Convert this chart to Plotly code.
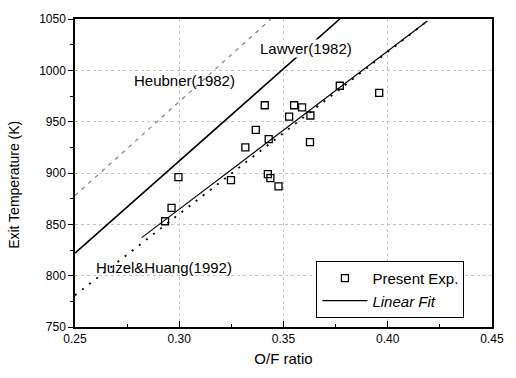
import plotly.graph_objects as go

# Experimental data (O/F ratio, exit temperature K)
exp_of = [0.2932, 0.2963, 0.2996, 0.3248, 0.3317, 0.3367, 0.3410, 0.3425, 0.3437,
          0.3429, 0.3476, 0.3527, 0.3551, 0.3589, 0.3629, 0.3627, 0.3770, 0.3959]
exp_T = [853, 866, 896, 893, 925, 942, 966, 899, 895,
         933, 887, 955, 966, 964, 956, 930, 985, 978]

# Linear fit endpoints
fit_of = [0.282, 0.419]
fit_T = [837, 1048]

# Literature correlations
heubner_of = [0.25, 0.344]
heubner_T = [878, 1050]
lawver_of = [0.25, 0.377]
lawver_T = [822, 1050]
huzel_of = [0.25, 0.419]
huzel_T = [781, 1048]

x_ticks = [0.25, 0.30, 0.35, 0.40, 0.45]
x_ticklabels = ["0.25", "0.30", "0.35", "0.40", "0.45"]
y_ticks = [750, 800, 850, 900, 950, 1000, 1050]

font_family = "Liberation Sans, Arial, sans-serif"

fig = go.Figure()

fig.add_trace(go.Scatter(x=heubner_of, y=heubner_T, mode="lines",
                         line=dict(color="#808080", width=1.2, dash="4px,5px"),
                         showlegend=False, hoverinfo="skip"))
fig.add_trace(go.Scatter(x=lawver_of, y=lawver_T, mode="lines",
                         line=dict(color="black", width=1.6),
                         showlegend=False, hoverinfo="skip"))
fig.add_trace(go.Scatter(x=huzel_of, y=huzel_T, mode="lines",
                         line=dict(color="black", width=1.8, dash="2px,7px"),
                         showlegend=False, hoverinfo="skip"))
fig.add_trace(go.Scatter(x=exp_of, y=exp_T, mode="markers", name="Present Exp.",
                         marker=dict(symbol="square-open", size=7, color="black",
                                     line=dict(width=1.3, color="black"))))
fig.add_trace(go.Scatter(x=fit_of, y=fit_T, mode="lines", name="<i>Linear Fit</i>",
                         line=dict(color="black", width=1.1)))

fig.add_annotation(x=0.3024, y=990, text="Heubner(1982)", showarrow=False,
                   font=dict(size=15, color="black", family=font_family))
fig.add_annotation(x=0.361, y=1021, text="Lawver(1982)", showarrow=False,
                   bgcolor="white", borderpad=0,
                   font=dict(size=15, color="black", family=font_family))
fig.add_annotation(x=0.2929, y=808, text="Huzel&amp;Huang(1992)", showarrow=False,
                   font=dict(size=15, color="black", family=font_family))

# y-axis title as annotation to match placement
fig.add_annotation(xref="paper", yref="paper", x=-0.145, y=0.46,
                   text="Exit Temperature (K)", textangle=-90, showarrow=False,
                   xanchor="center", yanchor="middle",
                   font=dict(size=14, color="black", family=font_family))

fig.update_layout(
    width=516, height=378,
    margin=dict(l=75, r=21, t=15, b=51),
    paper_bgcolor="white", plot_bgcolor="white",
    font=dict(family=font_family, size=12, color="black"),
    legend=dict(x=0.579, y=0.122, xanchor="left", yanchor="middle",
                bordercolor="black", borderwidth=1, bgcolor="white",
                font=dict(size=15, family=font_family),
                tracegroupgap=0, itemwidth=45),
    xaxis=dict(range=[0.25, 0.45], tickvals=x_ticks, ticktext=x_ticklabels,
               showline=True, linecolor="black", linewidth=1.5, mirror=True,
               ticks="inside", ticklen=6, tickcolor="black",
               minor=dict(dtick=0.025, tick0=0.25, ticks="inside", ticklen=3, tickcolor="black"),
               showgrid=True, gridcolor="#c4c4c4", griddash="dot", gridwidth=1,
               zeroline=False,
               title=dict(text="O/F ratio", font=dict(size=15), standoff=8)),
    yaxis=dict(range=[750, 1050], tickvals=y_ticks,
               showline=True, linecolor="black", linewidth=1.5, mirror=True,
               ticks="outside", ticklen=5, tickcolor="black",
               minor=dict(dtick=25, tick0=750, ticks="outside", ticklen=3, tickcolor="black"),
               showgrid=True, gridcolor="#c4c4c4", griddash="dot", gridwidth=1,
               zeroline=False),
)

fig.write_html("out.html")
